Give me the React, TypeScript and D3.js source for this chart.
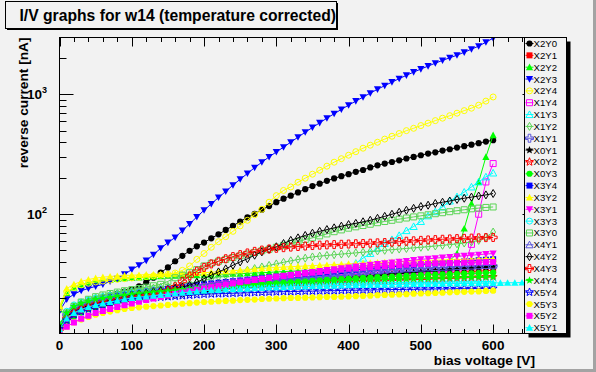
import React from 'react';
import * as d3 from 'd3';

// ---------- data ----------
const VOLTS = [
  0, 10, 20, 30, 40, 50, 60, 70, 80, 90,
  100, 110, 120, 130, 140, 150, 160, 170, 180, 190,
  200, 210, 220, 230, 240, 250, 260, 270, 280, 290,
  300, 310, 320, 330, 340, 350, 360, 370, 380, 390,
  400, 410, 420, 430, 440, 450, 460, 470, 480, 490,
  500, 510, 520, 530, 540, 550, 560, 570, 580, 590,
  600,
];
const VOLTS_LONG = [
  0, 10, 20, 30, 40, 50, 60, 70, 80, 90,
  100, 110, 120, 130, 140, 150, 160, 170, 180, 190,
  200, 210, 220, 230, 240, 250, 260, 270, 280, 290,
  300, 310, 320, 330, 340, 350, 360, 370, 380, 390,
  400, 410, 420, 430, 440, 450, 460, 470, 480, 490,
  500, 510, 520, 530, 540, 550, 560, 570, 580, 590,
  600, 610, 620, 630, 640, 650, 660, 670, 680, 690, 700,
];

const X2Y0 = [11, 13.5, 15.5, 17, 18.3, 19.3, 20.2, 21, 21.8, 22.6,
  23.5, 25, 27, 29.5, 32.5, 36, 40.5, 45, 49.5, 54,
  58, 63, 68, 74, 80, 87, 94, 101, 109, 117,
  126, 135, 143, 152, 162, 172, 180, 190, 199, 208,
  216, 226, 234, 246, 256, 265, 273, 282, 292, 301,
  311, 321, 329, 340, 349, 360, 370, 381, 392, 404,
  415];
const X2Y1 = [11, 13.5, 15, 16.2, 17.2, 18, 18.6, 19.1, 19.6, 20.1,
  20.5, 20.9, 21.3, 21.6, 22, 22.3, 22.7, 23, 23.3, 23.7,
  24, 24.2, 24.5, 24.7, 25, 25.2, 25.5, 25.7, 26, 26.2,
  26.5, 26.7, 27, 27.2, 27.5, 27.7, 28, 28.2, 28.5, 28.7,
  29, 29.2, 29.5, 29.7, 30, 30.2, 30.5, 30.7, 31, 31.2,
  31.5, 31.7, 32, 32.2, 32.5, 32.7, 33, 33.2, 33.5, 33.7,
  34];
const X2Y2 = [16, 22, 24.5, 25.8, 26.8, 27.5, 28, 28.4, 28.8, 29.2,
  29.5, 29.7, 29.9, 30.1, 30.3, 30.5, 30.6, 30.8, 30.9, 31,
  31.2, 31.3, 31.5, 31.6, 31.8, 31.9, 32.1, 32.3, 32.5, 32.7,
  33, 33.2, 33.4, 33.6, 33.8, 34, 34.2, 34.5, 34.8, 35.1,
  35.4, 35.7, 36, 36.3, 36.6, 37, 37.4, 37.8, 38.2, 38.6,
  39, 39.4, 39.8, 40.2, 41, 47, 76, 123, 186, 301,
  457];
const X2Y3 = [15.5, 19.5, 21.5, 23, 24, 25, 26, 27.5, 29, 31.5,
  34.5, 37.5, 41, 46, 52, 58, 64, 73, 83, 95,
  108, 122, 138, 155, 175, 196, 219, 245, 272, 301,
  331, 363, 400, 440, 484, 530, 580, 634, 690, 750,
  814, 880, 950, 1026, 1105, 1185, 1268, 1355, 1445, 1537,
  1630, 1725, 1825, 1925, 2025, 2128, 2250, 2390, 2533, 2730,
  2951];
const X2Y4 = [16.5, 22.5, 24.5, 25.7, 26.5, 27.2, 27.7, 28.2, 28.6, 29,
  29.4, 29.8, 30.2, 30.6, 31, 31.5, 32.3, 34, 37, 42,
  47, 53, 59, 65, 72, 80, 89, 99, 110, 126,
  143, 158, 169, 185, 200, 216, 233, 252, 272, 291,
  311, 333, 356, 377, 399, 424, 448, 472, 499, 522,
  550, 576, 605, 634, 665, 698, 733, 768, 814, 880,
  953];
const X1Y4 = [11, 13.5, 15, 16.2, 17.2, 18, 18.6, 19.1, 19.6, 20.1,
  20.5, 20.9, 21.3, 21.7, 22, 22.4, 22.7, 23, 23.4, 23.7,
  24, 24.3, 24.6, 24.9, 25.2, 25.5, 25.8, 26.1, 26.4, 26.7,
  27, 27.3, 27.6, 27.9, 28.2, 28.5, 28.8, 29.1, 29.4, 29.7,
  30, 30.3, 30.6, 30.9, 31.2, 31.5, 31.8, 32.1, 32.4, 32.7,
  33, 33.3, 33.6, 34, 34.5, 35, 36, 56, 100, 186,
  265];
const X1Y3 = [12, 15, 17, 18.3, 19.3, 20, 20.6, 21.2, 21.7, 22.2,
  22.6, 22.9, 23.2, 23.5, 23.8, 24.1, 24.4, 24.7, 25, 25.3,
  25.5, 25.8, 26.1, 26.4, 26.7, 27, 27.3, 27.6, 27.9, 28.2,
  28.5, 28.8, 29.1, 29.5, 29.9, 30.3, 30.8, 31.5, 32.5, 34.5,
  36.5, 39, 43, 47, 52, 57, 61.5, 66.5, 73, 79,
  87, 97, 105, 115, 129, 140, 153, 169, 186, 205,
  221];
const X1Y2 = [12, 15, 16.8, 18, 19, 20, 20.6, 21.2, 21.8, 22.4,
  23, 23.4, 23.8, 24.2, 24.6, 25, 25.5, 26, 26.6, 27.2,
  28, 28.9, 29.9, 30.9, 31.9, 33, 34.1, 35.2, 36.3, 37.4,
  38.5, 39.7, 40.8, 41.9, 43, 44, 44.7, 45.3, 45.9, 46.5,
  47, 47.6, 48.2, 48.8, 49.4, 50, 50.6, 51.2, 51.8, 52.4,
  53, 53.6, 54.3, 55, 55.8, 56.6, 57.5, 58.7, 60.5, 64.5,
  71];
const X1Y1 = [11.8, 14.5, 16.3, 17.3, 18.2, 19, 19.6, 20.1, 20.6, 21.1,
  21.5, 21.9, 22.2, 22.5, 22.9, 23.2, 23.6, 24, 24.3, 24.7,
  25, 25.3, 25.6, 25.9, 26.2, 26.5, 26.8, 27.1, 27.4, 27.7,
  28, 28.3, 28.6, 28.9, 29.2, 29.5, 29.8, 30.1, 30.4, 30.7,
  31, 31.3, 31.6, 31.9, 32.2, 32.5, 32.8, 33.1, 33.4, 33.7,
  34, 34.3, 34.6, 34.9, 35.2, 35.5, 35.8, 36.1, 36.4, 36.7,
  37];
const X0Y1 = [11, 13, 14.5, 15.3, 16, 16.5, 17, 17.5, 18, 18.5,
  19, 19.3, 19.7, 20, 20.4, 20.7, 21.1, 21.4, 21.8, 22.1,
  22.5, 22.8, 23.1, 23.4, 23.7, 24, 24.3, 24.6, 24.9, 25.2,
  25.5, 25.8, 26.2, 26.5, 26.9, 27.2, 27.6, 27.9, 28.3, 28.6,
  29, 29.4, 29.8, 30.2, 30.6, 31, 31.4, 31.8, 32.2, 32.6,
  33, 33.3, 33.7, 34, 34.4, 34.7, 35.1, 35.4, 35.8, 36.1,
  36.5];
const X0Y2 = [11, 13.5, 15, 15.9, 16.7, 17.5, 18, 18.5, 19, 19.5,
  20, 20.3, 20.6, 20.9, 21.2, 21.5, 21.8, 22.1, 22.4, 22.7,
  23, 23.2, 23.4, 23.6, 23.8, 24, 24.2, 24.4, 24.6, 24.8,
  25, 25.2, 25.4, 25.6, 25.8, 26, 26.2, 26.4, 26.6, 26.8,
  27, 27.2, 27.3, 27.5, 27.6, 27.8, 27.9, 28.1, 28.2, 28.4,
  28.5, 28.7, 28.8, 29, 29.1, 29.3, 29.4, 29.6, 29.7, 29.9,
  30];
const X0Y3 = [10.7, 12.5, 14, 15.1, 16.1, 17, 17.6, 18.2, 18.7, 19.1,
  19.5, 19.9, 20.3, 20.7, 21.1, 21.5, 21.9, 22.3, 22.7, 23.1,
  23.5, 23.8, 24.1, 24.4, 24.7, 25, 25.3, 25.6, 25.9, 26.2,
  26.5, 26.8, 27, 27.3, 27.5, 27.8, 28, 28.3, 28.5, 28.8,
  29, 29.2, 29.4, 29.6, 29.8, 30, 30.2, 30.4, 30.6, 30.8,
  31, 31.2, 31.3, 31.5, 31.6, 31.8, 31.9, 32.1, 32.2, 32.4,
  32.5];
const X3Y4 = [11.5, 14, 16, 17.2, 18.2, 19, 19.6, 20.2, 20.7, 21.1,
  21.5, 22, 22.4, 22.9, 23.3, 23.8, 24.2, 24.7, 25.1, 25.6,
  26, 26.4, 26.8, 27.2, 27.6, 28, 28.4, 28.8, 29.2, 29.6,
  30, 30.4, 30.8, 31.2, 31.6, 32, 32.4, 32.8, 33.2, 33.6,
  34, 34.4, 34.8, 35.2, 35.6, 36, 36.4, 36.8, 37.2, 37.6,
  38, 38.4, 38.8, 39.2, 39.6, 40, 40.4, 40.8, 41.2, 41.6,
  42];
const X3Y2 = [17, 24, 26, 27.5, 28.5, 29.3, 29.8, 30.2, 30.5, 30.8,
  31, 31.1, 31.3, 31.4, 31.5, 31.7, 31.8, 32, 32.2, 32.3,
  32.5, 32.8, 33.1, 33.4, 33.8, 34.1, 34.5, 34.9, 35.3, 35.6,
  36, 36.2, 36.5, 36.7, 37, 37.2, 37.5, 37.7, 38, 38.2,
  38.5, 38.7, 39, 39.2, 39.5, 39.7, 40, 40.2, 40.5, 40.7,
  41, 41.2, 41.3, 41.5, 41.7, 41.8, 42, 42.1, 42.3, 42.5,
  42.6];
const X3Y1 = [11, 13, 14.8, 16, 17, 17.8, 18.4, 19, 19.5, 20,
  20.5, 20.9, 21.4, 21.8, 22.3, 22.7, 23.2, 23.6, 24.1, 24.5,
  25, 25.5, 26, 26.5, 27, 27.5, 28, 28.5, 29, 29.5,
  30, 30.6, 31.2, 31.8, 32.4, 33, 33.6, 34.2, 34.8, 35.4,
  36, 36.6, 37.2, 37.8, 38.4, 39, 39.6, 40.2, 40.8, 41.4,
  42, 42.5, 43, 43.5, 44, 44.5, 45, 45.5, 46, 46.5,
  47];
const X3Y3 = [12, 15.5, 17.5, 18.5, 19.3, 20, 20.5, 20.9, 21.3, 21.7,
  22, 22.2, 22.4, 22.6, 22.8, 23, 23.2, 23.4, 23.6, 23.8,
  24, 24.1, 24.3, 24.4, 24.6, 24.7, 24.9, 25, 25.2, 25.3,
  25.5, 25.6, 25.7, 25.8, 25.9, 26, 26.1, 26.2, 26.3, 26.4,
  26.5, 26.6, 26.6, 26.7, 26.7, 26.8, 26.8, 26.9, 26.9, 27,
  27, 27, 27.1, 27.1, 27.2, 27.2, 27.3, 27.3, 27.4, 27.4,
  27.5];
const X3Y0 = [12, 15, 17, 18.5, 19.5, 20.5, 21.2, 21.8, 22.4, 23,
  23.5, 24, 24.6, 25.3, 26, 27.5, 29.5, 31, 32.5, 34.5,
  37, 39, 40.5, 42, 43.5, 45, 46.5, 48, 49.6, 51,
  53, 55, 57, 59, 61.5, 63.5, 66, 68.5, 71.5, 74,
  76.5, 78.5, 80.5, 82.5, 85, 87, 89, 91, 93, 95,
  97, 99, 101, 103, 105, 107, 109, 111, 112.5, 114,
  115];
const X4Y1 = [11.5, 14, 16, 17.2, 18.2, 19, 19.6, 20.2, 20.7, 21.1,
  21.5, 22, 22.4, 22.9, 23.3, 23.8, 24.2, 24.7, 25.1, 25.6,
  26, 26.4, 26.8, 27.2, 27.6, 28, 28.4, 28.8, 29.2, 29.6,
  30, 30.3, 30.6, 30.9, 31.2, 31.5, 31.8, 32.1, 32.4, 32.7,
  33, 33.3, 33.5, 33.8, 34, 34.3, 34.5, 34.8, 35, 35.3,
  35.5, 35.7, 35.9, 36.1, 36.3, 36.5, 36.7, 36.9, 37.1, 37.3,
  37.5];
const X4Y2 = [11, 14, 15.5, 16.5, 17.3, 18, 18.6, 19.2, 19.8, 20.4,
  21, 21.5, 22, 22.5, 23, 23.5, 24.1, 24.8, 25.5, 27,
  29, 31, 33, 35, 37.5, 40, 42.5, 45.5, 48.5, 51,
  53.5, 57, 60.5, 63.5, 66.5, 69.5, 72, 74.5, 77, 79.5,
  82, 84, 86.5, 89, 92.5, 96, 100, 104, 108, 112,
  116, 119, 123, 126, 129, 133, 136, 139, 142, 145,
  149];
const X4Y3 = [11, 13.5, 15, 16, 17, 17.7, 18.3, 18.8, 19.3, 19.8,
  20.2, 20.6, 21, 21.5, 22, 23, 24.8, 27.5, 30.5, 33.5,
  36, 38.5, 40.5, 42.5, 44.3, 46, 47.5, 49, 50.2, 51.3,
  52, 52.6, 53.2, 53.8, 54.3, 54.8, 55.2, 55.5, 55.8, 56.1,
  56.4, 56.7, 57, 57.3, 57.7, 58, 58.5, 59, 59.5, 60,
  60.5, 61, 61.4, 61.8, 62.2, 62.6, 62.9, 63.2, 63.5, 63.8,
  64];
const X4Y4 = [12, 15, 17, 18, 18.8, 19.5, 19.9, 20.3, 20.7, 21.1,
  21.5, 21.8, 22.1, 22.4, 22.7, 23, 23.3, 23.6, 23.9, 24.2,
  24.5, 24.7, 24.9, 25.1, 25.3, 25.5, 25.7, 25.9, 26.1, 26.3,
  26.5, 26.7, 26.8, 27, 27.1, 27.3, 27.4, 27.6, 27.7, 27.9,
  28, 28.1, 28.2, 28.3, 28.4, 28.5, 28.6, 28.7, 28.8, 28.9,
  29, 29.1, 29.2, 29.3, 29.4, 29.5, 29.6, 29.7, 29.8, 29.9,
  30];
const X5Y4 = [11, 13, 14.5, 15.4, 16.2, 17, 17.5, 18, 18.5, 19,
  19.5, 19.7, 19.9, 20.1, 20.3, 20.5, 20.7, 20.9, 21.1, 21.3,
  21.5, 21.6, 21.7, 21.8, 21.9, 22, 22.1, 22.2, 22.3, 22.4,
  22.5, 22.6, 22.6, 22.7, 22.8, 22.8, 22.9, 23, 23, 23.1,
  23.2, 23.2, 23.3, 23.3, 23.4, 23.4, 23.5, 23.5, 23.6, 23.6,
  23.7, 23.7, 23.8, 23.8, 23.8, 23.9, 23.9, 23.9, 24, 24,
  24];
const X5Y3 = [10.3, 11.5, 12.5, 13.2, 13.9, 14.5, 15, 15.4, 15.8, 16.2,
  16.5, 16.7, 16.9, 17.1, 17.3, 17.5, 17.7, 17.9, 18.1, 18.3,
  18.5, 18.6, 18.8, 18.9, 19, 19.2, 19.3, 19.4, 19.6, 19.7,
  19.8, 19.9, 20, 20, 20.1, 20.2, 20.3, 20.4, 20.4, 20.5,
  20.6, 20.7, 20.8, 20.9, 21.1, 21.2, 21.3, 21.4, 21.5, 21.7,
  21.8, 21.9, 22, 22.1, 22.3, 22.4, 22.5, 22.6, 22.7, 22.9,
  23];
const X5Y2 = [10.5, 11.5, 12.5, 13.4, 14.2, 15, 15.6, 16.2, 16.8, 17.4,
  18, 18.6, 19.2, 19.8, 20.4, 21, 21.6, 22.2, 22.8, 23.4,
  24, 24.6, 25.2, 25.8, 26.4, 27, 27.6, 28.2, 28.8, 29.4,
  30, 30.5, 31, 31.5, 32, 32.5, 33, 33.5, 34, 34.5,
  35, 35.4, 35.7, 36.1, 36.4, 36.8, 37.1, 37.5, 37.8, 38.2,
  38.5, 38.7, 38.9, 39, 39.2, 39.3, 39.5, 39.6, 39.8, 39.9,
  40];
const X5Y1 = [11, 13.5, 15, 16, 16.8, 17.5, 18, 18.5, 19, 19.5,
  20, 20.3, 20.6, 20.9, 21.2, 21.5, 21.8, 22.1, 22.4, 22.7,
  23, 23.2, 23.3, 23.5, 23.6, 23.8, 23.9, 24.1, 24.2, 24.4,
  24.5, 24.6, 24.7, 24.8, 24.9, 25, 25.1, 25.2, 25.3, 25.4,
  25.5, 25.6, 25.6, 25.7, 25.8, 25.8, 25.9, 26, 26, 26.1,
  26.2, 26.2, 26.3, 26.3, 26.4, 26.4, 26.5, 26.5, 26.6, 26.6,
  26.7, 26.7, 26.8, 26.8, 26.9, 26.9, 27, 27, 27.1, 27.1, 27.2];

const NAMES = ['X2Y0', 'X2Y1', 'X2Y2', 'X2Y3', 'X2Y4', 'X1Y4', 'X1Y3', 'X1Y2', 'X1Y1',
  'X0Y1', 'X0Y2', 'X0Y3', 'X3Y4', 'X3Y2', 'X3Y1', 'X3Y3', 'X3Y0', 'X4Y1', 'X4Y2',
  'X4Y3', 'X4Y4', 'X5Y4', 'X5Y3', 'X5Y2', 'X5Y1'];
const VALUES = [X2Y0, X2Y1, X2Y2, X2Y3, X2Y4, X1Y4, X1Y3, X1Y2, X1Y1,
  X0Y1, X0Y2, X0Y3, X3Y4, X3Y2, X3Y1, X3Y3, X3Y0, X4Y1, X4Y2,
  X4Y3, X4Y4, X5Y4, X5Y3, X5Y2, X5Y1];
const XVALUES = [VOLTS, VOLTS, VOLTS, VOLTS, VOLTS, VOLTS, VOLTS, VOLTS, VOLTS,
  VOLTS, VOLTS, VOLTS, VOLTS, VOLTS, VOLTS, VOLTS, VOLTS, VOLTS, VOLTS,
  VOLTS, VOLTS, VOLTS, VOLTS, VOLTS, VOLTS_LONG];

const X_MAJOR = [0, 100, 200, 300, 400, 500, 600];
const X_MINOR = [20, 40, 60, 80, 120, 140, 160, 180, 220, 240, 260, 280, 320, 340, 360, 380,
  420, 440, 460, 480, 520, 540, 560, 580, 620, 640];
const Y_MAJOR = [100, 1000];
const Y_MINOR = [20, 30, 40, 50, 60, 70, 80, 90, 200, 300, 400, 500, 600, 700, 800, 900, 2000];

// ---------- styles ----------
const ROOT_COLORS = ['#000000', '#ff0000', '#00ff00', '#0000ff', '#ffff00', '#ff00ff', '#00ffff', '#59d454', '#5954d9'];
const MARKER_CODES = [20, 21, 22, 23, 24, 25, 26, 27, 28, 29, 30];

const FONT = "'Liberation Sans', Arial, Helvetica, sans-serif";

function starPath(ro: number, ri: number) {
  const pts: string[] = [];
  for (let k = 0; k < 10; k++) {
    const r = k % 2 === 0 ? ro : ri;
    const a = -Math.PI / 2 + (k * Math.PI) / 5;
    pts.push(`${(r * Math.cos(a)).toFixed(2)},${(r * Math.sin(a)).toFixed(2)}`);
  }
  return 'M' + pts.join('L') + 'Z';
}

function markerShape(code: number): { d: string; filled: boolean } {
  switch (code) {
    case 20: return { d: 'M-3.1,0A3.1,3.1 0 1,0 3.1,0A3.1,3.1 0 1,0 -3.1,0Z', filled: true };
    case 21: return { d: 'M-3,-3H3V3H-3Z', filled: true };
    case 22: return { d: 'M0,-3.6L3.6,3L-3.6,3Z', filled: true };
    case 23: return { d: 'M0,3.6L3.6,-3L-3.6,-3Z', filled: true };
    case 24: return { d: 'M-3,0A3,3 0 1,0 3,0A3,3 0 1,0 -3,0Z', filled: false };
    case 25: return { d: 'M-3,-3H3V3H-3Z', filled: false };
    case 26: return { d: 'M0,-3.6L3.6,3L-3.6,3Z', filled: false };
    case 27: return { d: 'M0,-4L2.4,0L0,4L-2.4,0Z', filled: false };
    case 28: return { d: 'M-1.3,-4H1.3V-1.3H4V1.3H1.3V4H-1.3V1.3H-4V-1.3H-1.3Z', filled: false };
    case 29: return { d: starPath(4.2, 1.8), filled: true };
    default: return { d: starPath(4.2, 1.8), filled: false };
  }
}

const Marker = ({ code, color, x, y }: { code: number; color: string; x: number; y: number }) => {
  const m = markerShape(code);
  return (
    <path
      d={m.d}
      transform={`translate(${x},${y})`}
      fill={m.filled ? color : 'none'}
      stroke={m.filled ? 'none' : color}
      strokeWidth={1}
    />
  );
};

export default function App() {
  const W = 596, H = 372;
  const L = 59.5, R = 536.5, T = 37.5, B = 333.5;
  const x = d3.scaleLinear().domain([0, 660]).range([L, R]);
  const y = d3.scaleLog().domain([10.1, 2990]).range([B, T]);
  const line = d3.line<[number, number]>().x(d => x(d[0])).y(d => y(d[1]));

  const legTop = 37.5, legLeft = 524.5, legRight = 566.5, legBottom = 333.5;
  const rowH = (legBottom - legTop - 11.8) / 24;

  return (
    <svg width={W} height={H} style={{ position: 'absolute', left: 0, top: 0 }} xmlns="http://www.w3.org/2000/svg">
      <defs>
        <clipPath id="frameClip">
          <rect x={L} y={T} width={R - L} height={B - T} />
        </clipPath>
        <clipPath id="titleClip">
          <rect x={5} y={1} width={331} height={27} />
        </clipPath>
      </defs>
      {/* canvas */}
      <rect x={0} y={0} width={W} height={H} fill="#f2f2f2" />
      <rect x={W - 3} y={0} width={3} height={H} fill="#a3a3a3" />
      <rect x={0} y={H - 3} width={W} height={3} fill="#a3a3a3" />

      {/* frame */}
      <rect x={L} y={T} width={R - L} height={B - T} fill="#f2f2f2" stroke="none" />

      {/* data */}
      <g clipPath="url(#frameClip)">
        {VALUES.map((vals, i) => {
          const xs = XVALUES[i];
          const pts: [number, number][] = vals.map((v, j) => [xs[j], v]);
          const color = ROOT_COLORS[i % ROOT_COLORS.length];
          const code = MARKER_CODES[i % MARKER_CODES.length];
          return (
            <g key={NAMES[i]}>
              <path d={line(pts) || ''} fill="none" stroke={color} strokeWidth={1} />
              {pts.map((p, j) => (
                <Marker key={j} code={code} color={color} x={x(p[0])} y={y(p[1])} />
              ))}
            </g>
          );
        })}
      </g>

      {/* axes ticks */}
      <g stroke="#000" strokeWidth={1}>
        {X_MAJOR.map(v => (
          <g key={'xM' + v}>
            <line x1={Math.round(x(v)) + 0.5} x2={Math.round(x(v)) + 0.5} y1={B} y2={B - 9} />
            <line x1={Math.round(x(v)) + 0.5} x2={Math.round(x(v)) + 0.5} y1={T} y2={T + 9} />
          </g>
        ))}
        {X_MINOR.map(v => (
          <g key={'xm' + v}>
            <line x1={Math.round(x(v)) + 0.5} x2={Math.round(x(v)) + 0.5} y1={B} y2={B - 4.5} />
            <line x1={Math.round(x(v)) + 0.5} x2={Math.round(x(v)) + 0.5} y1={T} y2={T + 4.5} />
          </g>
        ))}
        {Y_MAJOR.map(v => (
          <g key={'yM' + v}>
            <line x1={L} x2={L + 14} y1={Math.round(y(v)) + 0.5} y2={Math.round(y(v)) + 0.5} />
            <line x1={R} x2={R - 14} y1={Math.round(y(v)) + 0.5} y2={Math.round(y(v)) + 0.5} />
          </g>
        ))}
        {Y_MINOR.map(v => (
          <g key={'ym' + v}>
            <line x1={L} x2={L + 7} y1={Math.round(y(v)) + 0.5} y2={Math.round(y(v)) + 0.5} />
            <line x1={R} x2={R - 7} y1={Math.round(y(v)) + 0.5} y2={Math.round(y(v)) + 0.5} />
          </g>
        ))}
      </g>
      <rect x={L} y={T} width={R - L} height={B - T} fill="none" stroke="#000" strokeWidth={1} />

      {/* tick labels */}
      <g fontFamily={FONT} fontWeight="bold" fontSize={13.5} fill="#000">
        {X_MAJOR.map(v => (
          <text key={'xl' + v} x={x(v)} y={350} textAnchor="middle">{v}</text>
        ))}
        {Y_MAJOR.map(v => (
          <text key={'yl' + v} x={47} y={y(v) + 5} textAnchor="end">
            10
            <tspan fontSize={9} dy={-6}>{Math.round(Math.log10(v))}</tspan>
          </text>
        ))}
      </g>

      {/* axis titles */}
      <text x={535} y={364.5} textAnchor="end" fontFamily={FONT} fontWeight="bold" fontSize={13.7}>bias voltage [V]</text>
      <text transform="translate(28,37.5) rotate(-90)" textAnchor="end" fontFamily={FONT} fontWeight="bold" fontSize={13.7}>reverse current [nA]</text>

      {/* title */}
      <rect x={7} y={3} width={331} height={27} fill="#000" />
      <rect x={5.5} y={1.5} width={331} height={27} fill="#f2f2f2" stroke="#000" strokeWidth={1} />
      <text x={19.5} y={21} fontFamily={FONT} fontWeight="bold" fontSize={15.7} clipPath="url(#titleClip)">I/V graphs for w14 (temperature corrected)</text>

      {/* legend */}
      <rect x={legLeft + 4} y={legTop + 4} width={legRight - legLeft} height={legBottom - legTop} fill="#000" />
      <rect x={legLeft} y={legTop} width={legRight - legLeft} height={legBottom - legTop} fill="#f2f2f2" stroke="#000" strokeWidth={1} />
      {NAMES.map((n, i) => {
        const cy = legTop + 6 + i * rowH;
        const color = ROOT_COLORS[i % ROOT_COLORS.length];
        const code = MARKER_CODES[i % MARKER_CODES.length];
        return (
          <g key={'lg' + n}>
            <line x1={525.5} x2={533.5} y1={cy} y2={cy} stroke={color} strokeWidth={1} />
            <Marker code={code} color={color} x={529.5} y={cy} />
            <text x={533.5} y={cy + 3.5} fontFamily={FONT} fontSize={9.6} fill="#000">{n}</text>
          </g>
        );
      })}
    </svg>
  );
}
